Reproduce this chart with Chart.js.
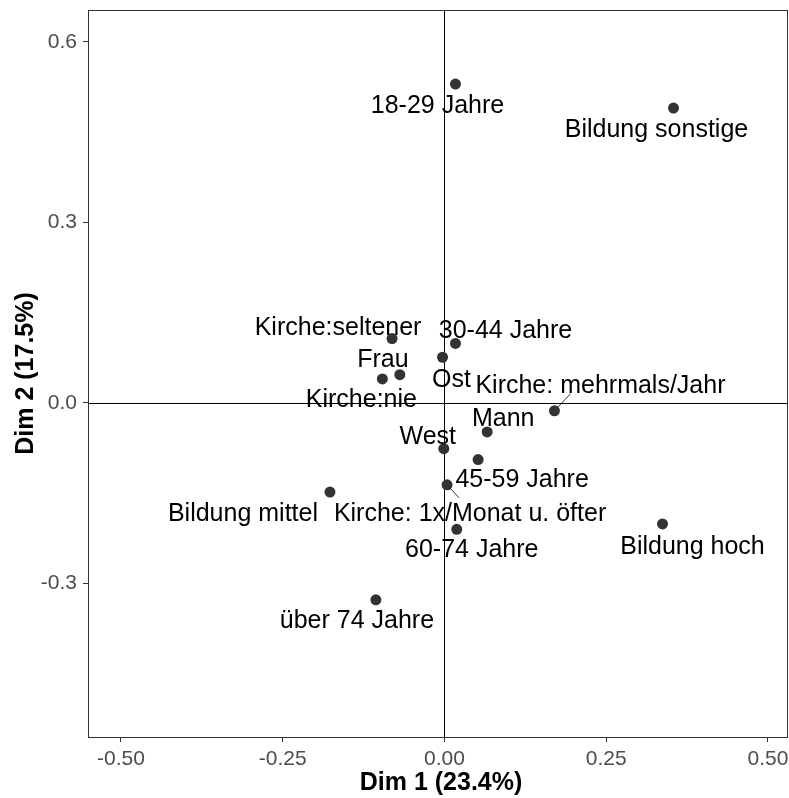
<!DOCTYPE html>
<html>
<head>
<meta charset="utf-8">
<script src="https://cdn.jsdelivr.net/npm/chart.js@4/dist/chart.umd.min.js"></script>
<style>
  html, body { margin: 0; padding: 0; background: #fff; }
  #chart { display: block; }
</style>
</head>
<body>
<canvas id="chart" width="789" height="798"></canvas>
<script>
/* ── Data ── */
const categories = [
  '18-29 Jahre', 'Bildung sonstige', 'Kirche:seltener', '30-44 Jahre', 'Ost',
  'Frau', 'Kirche:nie', 'Kirche: mehrmals/Jahr', 'Mann', 'West',
  '45-59 Jahre', 'Kirche: 1x/Monat u. öfter', 'Bildung mittel', '60-74 Jahre',
  'Bildung hoch', 'über 74 Jahre'
];
const dim1 = [0.017, 0.354, -0.081, 0.017, -0.003, -0.069, -0.096, 0.170, 0.066, -0.001, 0.052, 0.004, -0.177, 0.019, 0.337, -0.106];
const dim2 = [0.530, 0.490, 0.107, 0.099, 0.076, 0.047, 0.040, -0.013, -0.048, -0.076, -0.094, -0.136, -0.148, -0.210, -0.201, -0.327];
const xTicks = [-0.5, -0.25, 0, 0.25, 0.5];
const yTicks = [-0.3, 0, 0.3, 0.6];

/* ── Label placement (pixel offsets from the point, repel-style) ── */
const labelOffsets = [
  [-18, 22], [-17, 22], [-54, -10], [50, -12], [9, 23],
  [-17, -15], [-21, 21], [46, -25], [16, -13], [-16, -12],
  [44, 21], [23, 29], [-87, 22], [15, 21], [30, 23], [-19, 21]
];
const segments = { 7: [16, -17], 11: [12, 13] };

const FONT = "'Liberation Sans', Arial, sans-serif";

/* ── Plugins ── */
const refLines = {
  id: 'refLines',
  beforeDatasetsDraw(chart) {
    const { ctx, chartArea: a, scales: { x, y } } = chart;
    ctx.save();
    ctx.strokeStyle = '#000';
    ctx.lineWidth = 1;
    const x0 = Math.round(x.getPixelForValue(0)) + 0.5;
    const y0 = Math.round(y.getPixelForValue(0)) + 0.5;
    ctx.beginPath();
    ctx.moveTo(x0, a.top); ctx.lineTo(x0, a.bottom);
    ctx.moveTo(a.left, y0); ctx.lineTo(a.right, y0);
    ctx.stroke();
    ctx.restore();
  }
};

const frame = {
  id: 'frame',
  afterDraw(chart) {
    const { ctx, chartArea: a } = chart;
    ctx.save();
    ctx.strokeStyle = '#333';
    ctx.lineWidth = 1;
    ctx.strokeRect(a.left + 0.5, a.top + 0.5, a.right - a.left - 1, a.bottom - a.top);
    // axis titles
    ctx.fillStyle = '#000';
    ctx.font = 'bold 25px ' + FONT;
    ctx.textAlign = 'center';
    ctx.textBaseline = 'middle';
    ctx.fillText('Dim 1 (23.4%)', (a.left + a.right) / 2 + 3, 783);
    ctx.translate(26, (a.top + a.bottom) / 2);
    ctx.rotate(-Math.PI / 2);
    ctx.fillText('Dim 2 (17.5%)', 0, 0);
    ctx.restore();
  }
};

const pointLabels = {
  id: 'pointLabels',
  afterDatasetsDraw(chart) {
    const { ctx, scales: { x, y } } = chart;
    ctx.save();
    ctx.font = '25px ' + FONT;
    ctx.fillStyle = '#000';
    ctx.textAlign = 'center';
    ctx.textBaseline = 'middle';
    categories.forEach((lab, i) => {
      const px = x.getPixelForValue(dim1[i]);
      const py = y.getPixelForValue(dim2[i]);
      const [dx, dy] = labelOffsets[i];
      if (segments[i]) {
        const [sx, sy] = segments[i];
        ctx.strokeStyle = '#000';
        ctx.lineWidth = 0.8;
        ctx.beginPath();
        ctx.moveTo(px + sx * 0.2, py + sy * 0.2);
        ctx.lineTo(px + sx, py + sy);
        ctx.stroke();
      }
      ctx.fillText(lab, px + dx, py + dy);
    });
    ctx.restore();
  }
};

const noPad = s => { s.paddingTop = 0; s.paddingBottom = 0; s.paddingLeft = 0; s.paddingRight = 0; };

/* ── Chart ── */
new Chart(document.getElementById('chart'), {
  type: 'scatter',
  data: {
    datasets: [{
      data: dim1.map((v, i) => ({ x: v, y: dim2[i] })),
      backgroundColor: '#333',
      borderWidth: 0,
      pointRadius: 5.5,
      pointHoverRadius: 5.5
    }]
  },
  options: {
    responsive: false,
    animation: false,
    layout: { autoPadding: false, padding: { top: 10, right: 1, left: 0, bottom: 0 } },
    plugins: { legend: { display: false }, tooltip: { enabled: false } },
    scales: {
      x: {
        min: -0.551, max: 0.531,
        afterBuildTicks: s => { s.ticks = xTicks.map(v => ({ value: v })); },
        afterFit: s => { s.height = 61; noPad(s); },
        grid: { drawOnChartArea: false, drawTicks: true, tickLength: 5, color: '#333' },
        border: { display: false },
        ticks: {
          font: { family: FONT, size: 21 }, color: '#4d4d4d', padding: 5,
          maxRotation: 0, autoSkip: false,
          callback: v => v.toFixed(2)
        }
      },
      y: {
        min: -0.555, max: 0.653,
        afterBuildTicks: s => { s.ticks = yTicks.map(v => ({ value: v })); },
        afterFit: s => { s.width = 88; noPad(s); },
        grid: { drawOnChartArea: false, drawTicks: true, tickLength: 5, color: '#333' },
        border: { display: false },
        ticks: {
          font: { family: FONT, size: 21 }, color: '#4d4d4d', padding: 6,
          autoSkip: false,
          callback: v => v.toFixed(1)
        }
      }
    }
  },
  plugins: [refLines, pointLabels, frame]
});
</script>
</body>
</html>
